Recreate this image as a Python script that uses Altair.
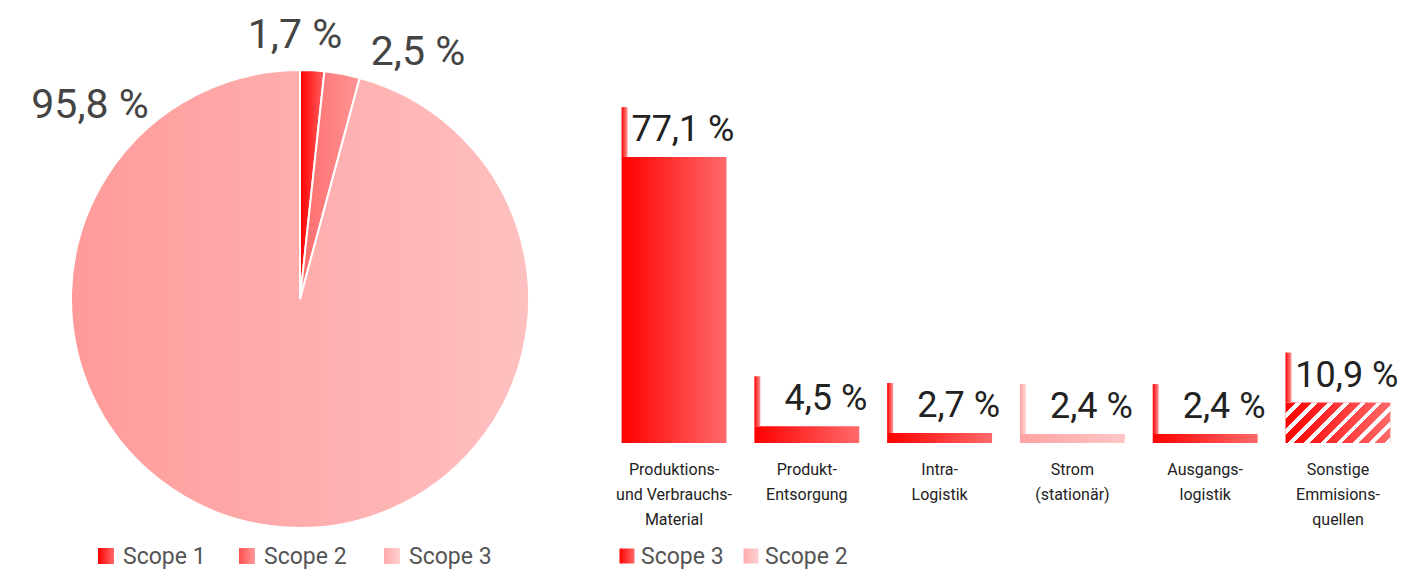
import math
import altair as alt
import pandas as pd

# ---------------- data ----------------
pie_scopes = ["Scope 1", "Scope 2", "Scope 3"]
pie_values = [1.7, 2.5, 95.8]
pie_labels = ["1,7 %", "2,5 %", "95,8 %"]

bar_categories = [
    "Produktions-\nund Verbrauchs-\nMaterial",
    "Produkt-\nEntsorgung",
    "Intra-\nLogistik",
    "Strom\n(stationär)",
    "Ausgangs-\nlogistik",
    "Sonstige\nEmmisions-\nquellen",
]
bar_values = [77.1, 4.5, 2.7, 2.4, 2.4, 10.9]
bar_labels = ["77,1 %", "4,5 %", "2,7 %", "2,4 %", "2,4 %", "10,9 %"]
bar_scopes = ["Scope 3", "Scope 3", "Scope 3", "Scope 2", "Scope 3", "Scope 3"]
bar_legend = ["Scope 3", "Scope 2"]

# ---------------- style / layout ----------------
FONT = "Roboto"
PIE_W, PIE_H = 582, 554
CX, CY, R = 292, 291, 229
BAR_W, BAR_H = 810, 435
Y_MAX = 117.3
P_IN, P_OUT = 0.21, 0.155
STEP = BAR_W / (len(bar_categories) - P_IN + 2 * P_OUT)
BW = STEP * (1 - P_IN)
RULE_W = 6
RULE_H = 50


def grad(c0, c1, x2=1, y2=0):
    return alt.Gradient(
        gradient="linear", x1=0, y1=0, x2=x2, y2=y2,
        stops=[alt.GradientStop(offset=0, color=c0), alt.GradientStop(offset=1, color=c1)],
    )


pie_colors = {
    "Scope 1": ("#ff0000", "#ff6464"),
    "Scope 2": ("#ff6c6c", "#ff9494"),
    "Scope 3": ("#ff9a9a", "#ffc0c0"),
}
bar_colors = {"Scope 3": ("#ff0000", "#ff6a6a"), "Scope 2": ("#ffa2a2", "#ffc6c6")}
rule_colors = {"Scope 3": ("#ff0000", "#ff9a9a"), "Scope 2": ("#ffa2a2", "#ffd6d6")}
legend_colors_pie = {
    "Scope 1": ("#ff0000", "#ff6a6a"),
    "Scope 2": ("#ff5050", "#ff9a9a"),
    "Scope 3": ("#ffaaaa", "#ffd0d0"),
}
legend_colors_bar = {"Scope 3": ("#ff0000", "#ff6a6a"), "Scope 2": ("#ffaaaa", "#ffd0d0")}

# ---------------- pie panel ----------------
pie_df = pd.DataFrame({"idx": list(range(len(pie_scopes))), "scope": pie_scopes,
                       "value": pie_values, "label": pie_labels})
pie_base = (
    alt.Chart(pie_df)
    .transform_window(cum="sum(value)", sort=[alt.SortField("idx")], frame=[None, 0])
    .transform_calculate(start="datum.cum - datum.value")
)
theta_scale = alt.Scale(domain=[0, 100], range=[0, 2 * math.pi])

pie_layers = []
for s in pie_scopes:
    pie_layers.append(
        pie_base.transform_filter(alt.datum.scope == s)
        .mark_arc(radius=R, stroke="white", strokeWidth=2, fill=grad(*pie_colors[s]))
        .encode(
            theta=alt.Theta("start:Q", scale=theta_scale),
            theta2="cum:Q",
            x=alt.value(CX),
            y=alt.value(CY),
        )
    )

pie_label_pos = {"Scope 1": (287, 40), "Scope 2": (410, 57), "Scope 3": (82, 110)}
for s in pie_scopes:
    px, py = pie_label_pos[s]
    pie_layers.append(
        alt.Chart(pie_df)
        .transform_filter(alt.datum.scope == s)
        .mark_text(font=FONT, fontSize=41, color="#444", align="center", baseline="alphabetic")
        .encode(text="label:N", x=alt.value(px), y=alt.value(py))
    )

leg_pie_df = pd.DataFrame({"scope": pie_scopes})
pie_leg_pos = {"Scope 1": 98, "Scope 2": 239, "Scope 3": 384}
for s in pie_scopes:
    lx = pie_leg_pos[s]
    pie_layers.append(
        alt.Chart(leg_pie_df).transform_filter(alt.datum.scope == s)
        .mark_square(size=256, fill=grad(*legend_colors_pie[s]), opacity=1)
        .encode(x=alt.value(lx), y=alt.value(548))
    )
    pie_layers.append(
        alt.Chart(leg_pie_df).transform_filter(alt.datum.scope == s)
        .mark_text(font=FONT, fontSize=23, color="#555", align="left", baseline="middle")
        .encode(text="scope:N", x=alt.value(lx + 17), y=alt.value(549))
    )

pie_panel = alt.layer(*pie_layers).properties(width=PIE_W, height=PIE_H)

# ---------------- bar panel ----------------
bar_df = pd.DataFrame({"category": bar_categories, "value": bar_values,
                       "label": bar_labels, "scope": bar_scopes})

x_scale = alt.Scale(paddingInner=P_IN, paddingOuter=P_OUT)
x_axis = alt.Axis(
    title=None, labelAngle=0, ticks=False, domain=False, labelFont=FONT,
    labelFontSize=16, labelColor="#222", labelLineHeight=25, labelPadding=18,
    labelExpr="split(datum.value, '\\n')", labelLimit=0,
)
xenc = alt.X("category:N", sort=bar_categories, scale=x_scale, axis=x_axis)
yscale = alt.Scale(domain=[0, Y_MAX])
bar_base = alt.Chart(bar_df)

bar_layers = []
for s in ["Scope 3", "Scope 2"]:
    bar_layers.append(
        bar_base.transform_filter(alt.datum.scope == s)
        .mark_bar(fill=grad(*bar_colors[s]))
        .encode(x=xenc, y=alt.Y("value:Q", scale=yscale, axis=None))
    )

# diagonal white stripes over the last bar
H_hatch = bar_values[5] * BAR_H / Y_MAX
r = H_hatch / BW
a = (1 + r) / (1 + r * r)
N_STRIPES = 9
WHITE_FRAC = 0.36
stops = []
for k in range(N_STRIPES):
    s0 = k / N_STRIPES
    s1 = (k + 1 - WHITE_FRAC) / N_STRIPES
    s2 = (k + 1) / N_STRIPES
    stops += [
        alt.GradientStop(offset=s0, color="rgba(255,255,255,0)"),
        alt.GradientStop(offset=s1, color="rgba(255,255,255,0)"),
        alt.GradientStop(offset=s1, color="#ffffff"),
        alt.GradientStop(offset=s2, color="#ffffff"),
    ]
hatch = alt.Gradient(gradient="linear", x1=0, y1=0, x2=a, y2=a * r, stops=stops)
bar_layers.append(
    bar_base.transform_filter(alt.FieldEqualPredicate(field="category", equal=bar_categories[5]))
    .mark_bar(fill=hatch)
    .encode(x=xenc, y=alt.Y("value:Q", scale=yscale, axis=None))
)

for s in ["Scope 3", "Scope 2"]:
    bar_layers.append(
        bar_base.transform_filter(alt.datum.scope == s)
        .mark_bar(width=RULE_W, xOffset=-(BW - RULE_W) / 2, y2Offset=-RULE_H,
                  fill=grad(*rule_colors[s]))
        .encode(x=xenc, y=alt.Y("value:Q", scale=yscale, axis=None), y2="value:Q")
    )

bar_layers.append(
    bar_base.mark_text(font=FONT, fontSize=36, color="#222", align="right",
                       baseline="alphabetic", dx=8, dy=-16)
    .encode(x=alt.X("category:N", sort=bar_categories, scale=x_scale, axis=x_axis, bandPosition=1),
            y=alt.Y("value:Q", scale=yscale, axis=None), text="label:N")
)

leg_bar_df = pd.DataFrame({"scope": bar_legend})
bar_leg_pos = {"Scope 3": 26, "Scope 2": 150}
for s in bar_legend:
    lx = bar_leg_pos[s]
    bar_layers.append(
        alt.Chart(leg_bar_df).transform_filter(alt.datum.scope == s)
        .mark_square(size=225, fill=grad(*legend_colors_bar[s]), opacity=1)
        .encode(x=alt.value(lx), y=alt.value(548))
    )
    bar_layers.append(
        alt.Chart(leg_bar_df).transform_filter(alt.datum.scope == s)
        .mark_text(font=FONT, fontSize=23, color="#555", align="left", baseline="middle")
        .encode(text="scope:N", x=alt.value(lx + 14), y=alt.value(549))
    )

bar_panel = alt.layer(*bar_layers).properties(width=BAR_W, height=BAR_H)

chart = (
    alt.hconcat(pie_panel, bar_panel, spacing=11)
    .properties(padding=0)
    .configure(font=FONT)
    .configure_view(strokeWidth=0, stroke="transparent")
)

chart.save("out.html", embed_options={"renderer": "svg", "actions": False})
